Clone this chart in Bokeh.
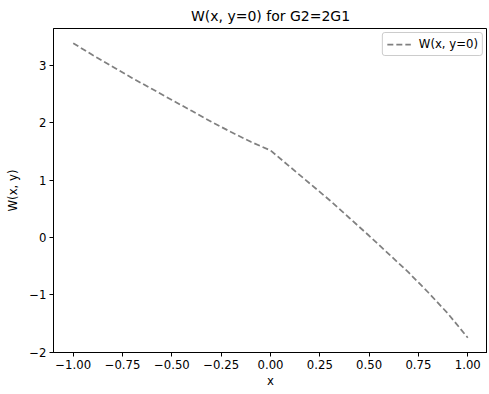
from bokeh.plotting import figure
from bokeh.models import Range1d, FixedTicker, Legend, LegendItem
from bokeh.embed import file_html
from bokeh.resources import INLINE

title = "W(x, y=0) for G2=2G1"
x_vals = [-1.0, -0.9, -0.8, -0.7, -0.6, -0.5, -0.4, -0.3, -0.2, -0.1, 0.0,
          0.1, 0.2, 0.3, 0.4, 0.5, 0.6, 0.7, 0.8, 0.9, 1.0]
w_vals = [3.39, 3.18, 2.98, 2.78, 2.59, 2.40, 2.21, 2.02, 1.84, 1.67, 1.52,
          1.23, 0.94, 0.65, 0.34, 0.03, -0.29, -0.61, -0.96, -1.33, -1.75]
x_ticks = [-1.0, -0.75, -0.5, -0.25, 0.0, 0.25, 0.5, 0.75, 1.0]
x_tick_labels = ["\u22121.00", "\u22120.75", "\u22120.50", "\u22120.25", "0.00", "0.25", "0.50", "0.75", "1.00"]
y_ticks = [-2, -1, 0, 1, 2, 3]
y_tick_labels = ["\u22122", "\u22121", "0", "1", "2", "3"]
series_label = "W(x, y=0)"

def padded(vals, frac=0.05):
    lo, hi = min(vals), max(vals)
    m = (hi - lo) * frac
    return lo - m, hi + m

xr = padded(x_vals)
yr = padded(w_vals)

FONT = "DejaVu Sans"
p = figure(frame_width=434, frame_height=324, output_backend="svg", toolbar_location=None,
           x_range=Range1d(*xr), y_range=Range1d(*yr),
           min_border_left=53, min_border_right=0, min_border_top=20, min_border_bottom=34)
p.title.text = title
p.title.align = "center"
p.title.text_font = FONT
p.title.text_font_size = "14px"
p.title.text_font_style = "normal"
p.title.text_color = "black"
p.title.standoff = 10

p.grid.visible = False
p.outline_line_color = "black"
p.outline_line_alpha = 1
p.outline_line_width = 1

for ax in (p.xaxis[0], p.yaxis[0]):
    ax.major_label_text_font = FONT
    ax.major_label_text_font_size = "11.7px"
    ax.major_label_text_color = "black"
    ax.axis_label_text_font = FONT
    ax.axis_label_text_font_size = "11.7px"
    ax.axis_label_text_font_style = "normal"
    ax.axis_label_text_color = "black"
    ax.axis_line_color = "black"
    ax.major_tick_line_color = "black"
    ax.major_tick_out = 4
    ax.major_tick_in = 0
    ax.minor_tick_line_color = None
    ax.major_label_standoff = 3

p.xaxis.ticker = FixedTicker(ticks=x_ticks)
p.xaxis.major_label_overrides = {t: l for t, l in zip(x_ticks, x_tick_labels)}
p.yaxis.ticker = FixedTicker(ticks=y_ticks)
p.yaxis.major_label_overrides = {t: l for t, l in zip(y_ticks, y_tick_labels)}
p.xaxis.axis_label = "x"
p.yaxis.axis_label = "W(x, y)"
p.xaxis.axis_label_standoff = 2
p.yaxis.axis_label_standoff = 6

r = p.line(x_vals, w_vals, line_color="gray", line_width=1.75, line_dash="6 3")

legend = Legend(items=[LegendItem(label=series_label, renderers=[r])], location="top_right")
legend.label_text_font = FONT
legend.label_text_font_size = "11.7px"
legend.label_text_color = "black"
legend.border_line_color = "#cccccc"
legend.border_line_alpha = 1
legend.background_fill_alpha = 0.8
legend.glyph_width = 24
legend.glyph_height = 14
legend.padding = 4
legend.margin = 4
legend.spacing = 0
legend.label_standoff = 8
legend.border_radius = 3
p.add_layout(legend)

open("out.html", "w").write(file_html(p, INLINE))
